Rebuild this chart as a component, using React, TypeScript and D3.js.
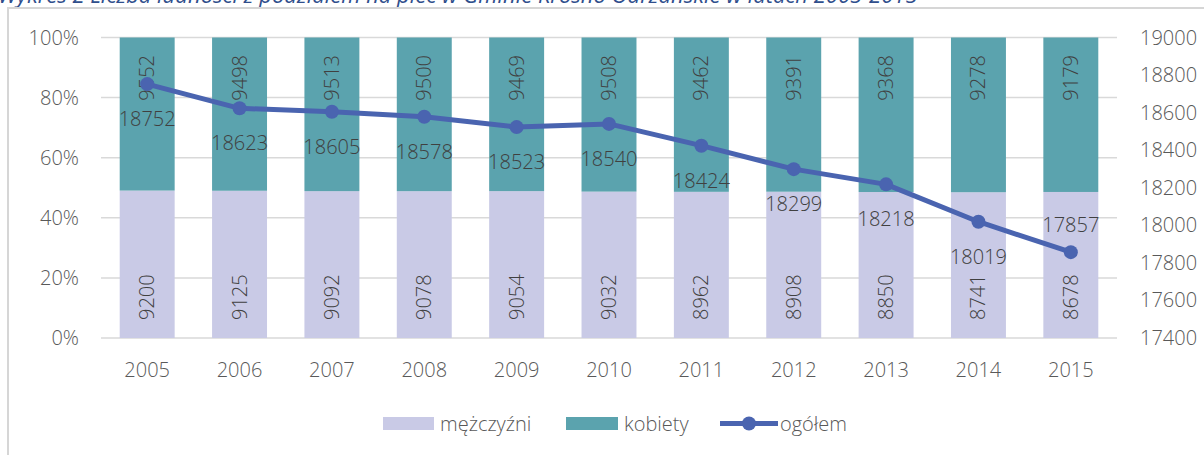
import React from "react";
import * as d3 from "d3";

const years = ["2005", "2006", "2007", "2008", "2009", "2010", "2011", "2012", "2013", "2014", "2015"];
const men = [9200, 9125, 9092, 9078, 9054, 9032, 8962, 8908, 8850, 8741, 8678];
const women = [9552, 9498, 9513, 9500, 9469, 9508, 9462, 9391, 9368, 9278, 9179];
const total = [18752, 18623, 18605, 18578, 18523, 18540, 18424, 18299, 18218, 18019, 17857];
const pctTicks = [0, 0.2, 0.4, 0.6, 0.8, 1];
const rightTicks = [17400, 17600, 17800, 18000, 18200, 18400, 18600, 18800, 19000];
const seriesNames = ["mężczyźni", "kobiety", "ogółem"];
const title = "Wykres 2 Liczba ludności z podziałem na płeć w Gminie Krosno Odrzańskie w latach 2005-2015";

const W = 1204;
const H = 455;
const FONT = "'Open Sans', sans-serif";
const C_MEN = "#C9CAE6";
const C_WOMEN = "#5BA3AE";
const C_LINE = "#4A64B0";
const C_GRID = "#D9D9D9";
const C_AXIS = "#595959";
const C_LABEL = "#404040";

export default function App() {
  const x = d3.scaleBand<string>().domain(years).range([101, 1117]).padding(0);
  const barW = x.bandwidth() * 0.595;
  const yL = d3.scaleLinear().domain([0, 1]).range([338, 37.5]);
  const yR = d3.scaleLinear().domain([17400, 19000]).range([338, 37.5]);
  const pct = d3.format(".0%");
  const cx = (i: number) => (x(years[i]) as number) + x.bandwidth() / 2;
  const line = d3
    .line<number>()
    .x((_, i) => cx(i))
    .y((d) => yR(d));

  return (
    <svg
      width={W}
      height={H}
      style={{ position: "fixed", left: 0, top: 0, background: "#fff" }}
      fontFamily={FONT}
    >
      <rect x={0} y={0} width={W} height={H} fill="#fff" />
      <text x={-2} y={3} fontSize={22} fontStyle="italic" fill="#2F4E8C" fontFamily={FONT}>
        {title}
      </text>
      <path d={`M8,${H + 5} V8 H${W + 5}`} fill="none" stroke="#D6D6D6" strokeWidth={2} />

      {pctTicks.map((t) => (
        <g key={t}>
          <line x1={101} x2={1117} y1={yL(t)} y2={yL(t)} stroke={C_GRID} strokeWidth={1.5} />
          <text x={79} y={yL(t)} dy="0.35em" textAnchor="end" fontSize={20} fontWeight={300} fill={C_AXIS}>
            {pct(t)}
          </text>
        </g>
      ))}
      {rightTicks.map((t) => (
        <text key={t} x={1140} y={yR(t)} dy="0.35em" textAnchor="start" fontSize={20} fontWeight={300} fill={C_AXIS}>
          {t}
        </text>
      ))}

      {years.map((yr, i) => {
        const tot = men[i] + women[i];
        const mShare = men[i] / tot;
        const x0 = cx(i) - barW / 2;
        return (
          <g key={yr}>
            <rect x={x0} y={yL(mShare)} width={barW} height={yL(0) - yL(mShare)} fill={C_MEN} />
            <rect x={x0} y={yL(1)} width={barW} height={yL(mShare) - yL(1)} fill={C_WOMEN} />
          </g>
        );
      })}

      {years.map((yr, i) => (
        <g key={"lbl" + yr}>
          <text
            transform={`translate(${cx(i)},${yL(0) - 18}) rotate(-90)`}
            dy="0.35em"
            textAnchor="start"
            fontSize={20}
            fontWeight={300}
            fill={C_LABEL}
          >
            {men[i]}
          </text>
          <text
            transform={`translate(${cx(i)},${yL(1) + 17.5}) rotate(-90)`}
            dy="0.35em"
            textAnchor="end"
            fontSize={20}
            fontWeight={300}
            fill={C_LABEL}
          >
            {women[i]}
          </text>
          <text x={cx(i)} y={377} textAnchor="middle" fontSize={20} fontWeight={300} fill={C_AXIS}>
            {yr}
          </text>
        </g>
      ))}

      <path d={line(total) || ""} fill="none" stroke={C_LINE} strokeWidth={5} strokeLinejoin="round" />
      {total.map((v, i) => (
        <circle key={"pt" + i} cx={cx(i)} cy={yR(v)} r={7} fill={C_LINE} />
      ))}
      {total.map((v, i) => {
        const above = i === total.length - 1;
        return (
          <text
            key={"tl" + i}
            x={cx(i)}
            y={yR(v) + (above ? -20 : 42)}
            textAnchor="middle"
            fontSize={20}
            fontWeight={300}
            fill={C_LABEL}
          >
            {v}
          </text>
        );
      })}

      <g>
        <rect x={383} y={417} width={51} height={13} fill={C_MEN} />
        <text x={440} y={431} fontSize={20} fontWeight={300} fill={C_AXIS}>
          {seriesNames[0]}
        </text>
        <rect x={566} y={417} width={52} height={13} fill={C_WOMEN} />
        <text x={624} y={431} fontSize={20} fontWeight={300} fill={C_AXIS}>
          {seriesNames[1]}
        </text>
        <line x1={720} x2={778} y1={423.5} y2={423.5} stroke={C_LINE} strokeWidth={5} />
        <circle cx={749} cy={423.5} r={7} fill={C_LINE} />
        <text x={780} y={431} fontSize={20} fontWeight={300} fill={C_AXIS}>
          {seriesNames[2]}
        </text>
      </g>
    </svg>
  );
}
